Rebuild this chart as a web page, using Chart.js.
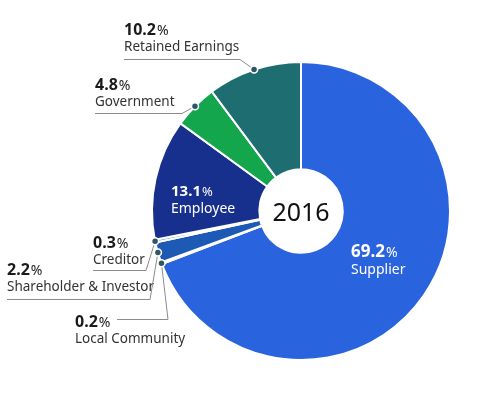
<!DOCTYPE html>
<html>
<head>
<meta charset="utf-8">
<script src="https://cdn.jsdelivr.net/npm/chart.js@4.4.1/dist/chart.umd.min.js"></script>
<style>
  html, body { margin: 0; padding: 0; background: #fff; }
  canvas { display: block; }
</style>
</head>
<body>
<canvas id="grafica" width="488" height="397"></canvas>
<script>
const year = "2016";
const categories = ["Supplier", "Local Community", "Shareholder & Investor", "Creditor", "Employee", "Government", "Retained Earnings"];
const shares = [69.2, 0.2, 2.2, 0.3, 13.1, 4.8, 10.2];
const colors = ["#2a63de", "#6a4fe3", "#1d5ab6", "#4b8fd3", "#172f8d", "#13a64d", "#1e6d71"];

const FONT = '"Noto Sans", "DejaVu Sans", sans-serif';

// where each label sits (text left x, baseline of % line, underline y)
const inside = {
  0: { x: 351, y: 257, big: 17, name: 14 },
  4: { x: 171, y: 196, big: 15, name: 14 }
};
const outside = {
  6: { x: 124, y: 35, line: 59.5, lineEnd: 240 },
  5: { x: 95, y: 90, line: 113.5, lineEnd: 182 },
  3: { x: 93, y: 248, line: 270.5, lineEnd: 146 },
  2: { x: 7, y: 275, line: 299.5, lineEnd: 150 },
  1: { x: 75, y: 327, line: 319.5, lineStart: 117, lineEnd: 168 }
};

function pctText(ctx, value, x, y, size, color) {
  const num = value.toFixed(1);
  ctx.fillStyle = color;
  ctx.font = "bold " + size + "px " + FONT;
  ctx.fillText(num, x, y);
  const w = ctx.measureText(num).width;
  ctx.font = Math.round(size * 0.85) + "px " + FONT;
  ctx.fillText("%", x + w + 1, y);
}

const etiquetas = {
  id: "etiquetas",
  afterDraw(chart) {
    const ctx = chart.ctx;
    const arcs = chart.getDatasetMeta(0).data;
    ctx.save();
    ctx.textAlign = "left";
    ctx.textBaseline = "alphabetic";

    // centro
    const c = arcs[0];
    ctx.fillStyle = "#111";
    ctx.font = "25px " + FONT;
    ctx.textAlign = "center";
    ctx.fillText(year, c.x, c.y + 10);
    ctx.textAlign = "left";

    // dentro de las porciones
    for (const k in inside) {
      const p = inside[k];
      pctText(ctx, shares[k], p.x, p.y, p.big, "#fff");
      ctx.font = p.name + "px " + FONT;
      ctx.fillText(categories[k], p.x, p.y + 17);
    }

    // fuera, con linea guia
    for (const k in outside) {
      const p = outside[k];
      const a = arcs[k];
      const mid = (a.startAngle + a.endAngle) / 2;
      const dx = a.x + Math.cos(mid) * a.outerRadius;
      const dy = a.y + Math.sin(mid) * a.outerRadius;

      pctText(ctx, shares[k], p.x, p.y, 16, "#1a1a1a");
      ctx.fillStyle = "#333";
      ctx.font = "13.5px " + FONT;
      ctx.fillText(categories[k], p.x, p.y + 16);

      ctx.strokeStyle = "#8c8c8c";
      ctx.lineWidth = 1;
      ctx.beginPath();
      ctx.moveTo(p.lineStart || p.x, p.line);
      ctx.lineTo(p.lineEnd, p.line);
      ctx.lineTo(dx, dy);
      ctx.stroke();

      ctx.beginPath();
      ctx.arc(dx, dy, 3.5, 0, Math.PI * 2);
      ctx.fillStyle = "#2f5566";
      ctx.fill();
      ctx.strokeStyle = "#fff";
      ctx.lineWidth = 1.5;
      ctx.stroke();
    }
    ctx.restore();
  }
};

const ctx = document.getElementById("grafica").getContext("2d");

const chart = new Chart(ctx, {
  type: "doughnut",
  data: {
    labels: categories,
    datasets: [{
      data: shares,
      backgroundColor: colors,
      borderColor: "#fff",
      borderWidth: 2
    }]
  },
  options: {
    responsive: false,
    animation: false,
    devicePixelRatio: 1,
    cutout: "28%",
    rotation: 0,
    layout: { padding: { left: 151, right: 37, top: 61, bottom: 36 } },
    plugins: {
      legend: { display: false },
      tooltip: { enabled: false }
    }
  },
  plugins: [etiquetas]
});
</script>
</body>
</html>
